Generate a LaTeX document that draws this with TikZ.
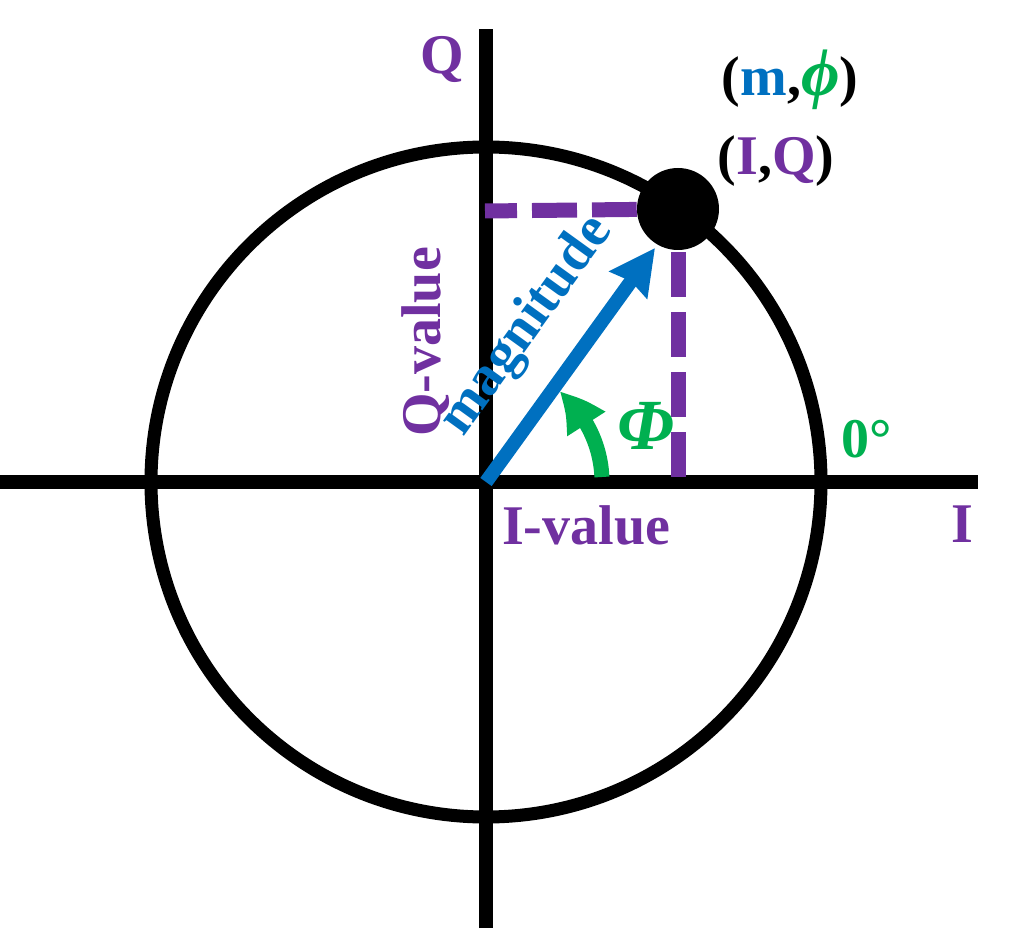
\documentclass[tikz,border=0pt]{standalone}
\usepackage{fontspec}
\setmainfont{Liberation Serif}
\usetikzlibrary{arrows.meta,bending}
\definecolor{cpurple}{HTML}{7030A0}
\definecolor{cblue}{HTML}{0070C0}
\definecolor{cgreen}{HTML}{00B050}
\begin{document}
\begin{tikzpicture}[x=0.75pt,y=0.75pt,
  axisline/.style={line width=10.5pt,black},
  ringline/.style={line width=9.75pt,black},
  dashline/.style={line width=11.25pt,cpurple,dash pattern=on 33.75pt off 11.25pt},
  lbl/.style={font=\fontsize{42}{50}\selectfont\bfseries,inner sep=0pt,anchor=base},
  dotnode/.style={circle,fill=black,inner sep=0pt,minimum size=61.5pt}]
\useasboundingbox (-486,-456) rectangle (523,482);
\coordinate (O) at (0,0);
\coordinate (xl) at (-486,0);
\coordinate (xr) at (492,0);
\coordinate (yt) at (0,453);
\coordinate (yb) at (0,-446);
\coordinate (hd) at (-1,271);
\coordinate (vd) at (192,5);
\coordinate (tip) at (169,234);
% axes and circle
\draw[axisline] (xl) -- (xr);
\draw[axisline] (yb) -- (yt);
\draw[ringline] (O) circle[radius=335];
% point
\node[dotnode] (P) at (192,273) {};
% dashed projections
\draw[dashline,dash phase=9.75pt] (hd) -- (P);
\draw[dashline] (vd) -- (P);
% magnitude arrow
\draw[line width=10.5pt,cblue,-{Stealth[length=33.75pt,width=33.75pt,inset=3pt]}] (O) -- (tip);
% angle arrow
\draw[line width=11.25pt,cgreen,-{Triangle[length=32pt,width=31.5pt,bend]}] (115.9,5) arc[start angle=2.5,end angle=51,radius=116];
% labels
\node[lbl,text=cpurple] (lQ) at (-44,408) {Q};
\node[lbl,text=cpurple] (lI) at (476,-61) {I};
\node[lbl] (lmphi) at (304,386) {(\textcolor{cblue}{m},\textcolor{cgreen}{\fontsize{50}{56}\selectfont\itshape ϕ})};
\node[lbl] (lIQ) at (290,307) {(\textcolor{cpurple}{I},\textcolor{cpurple}{Q})};
\node[lbl,text=cpurple] (lIv) at (100,-63) {I-value};
\node[lbl,text=cpurple,rotate=90] (lQv) at (-46,140) {Q-value};
\node[lbl,text=cblue,rotate=54.2] (lmag) at (52,148) {magnitude};
\node[lbl,text=cgreen] (lzero) at (381,24) {0°};
\node[lbl,text=cgreen,font=\fontsize{54}{60}\selectfont\bfseries\itshape] (lPhi) at (160,32) {Φ};
\end{tikzpicture}
\end{document}
